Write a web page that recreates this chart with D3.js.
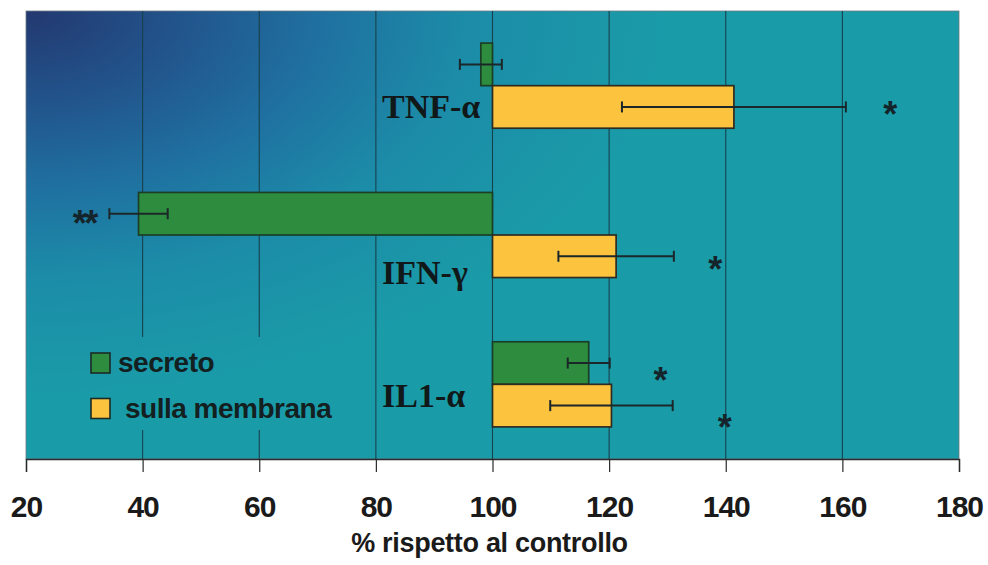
<!DOCTYPE html>
<html>
<head>
<meta charset="utf-8">
<script src="https://cdn.jsdelivr.net/npm/d3@7/dist/d3.min.js"></script>
<style>
  html, body { margin: 0; padding: 0; background: #ffffff; }
  svg { display: block; }
</style>
</head>
<body>
<svg id="chart" width="988" height="565"></svg>
<script>
// Cytokine levels relative to control (%)
const categories = ["TNF-α", "IFN-γ", "IL1-α"];
const seriesNames = ["secreto", "sulla membrana"];
const secreto = [98.0, 39.3, 116.5];
const secretoErr = [3.6, 5.0, 3.6];
const membrana = [141.4, 121.2, 120.4];
const membranaErr = [19.2, 9.9, 10.5];
const xTicks = [20, 40, 60, 80, 100, 120, 140, 160, 180];
const baseValue = 100;
// significance marks: category, series, value at which the mark sits, text
const sigCategory = ["TNF-α", "IFN-γ", "IFN-γ", "IL1-α", "IL1-α"];
const sigSeries = ["sulla membrana", "secreto", "sulla membrana", "secreto", "sulla membrana"];
const sigAt = [168.0, 30.0, 138.0, 128.6, 139.6];
const sigText = ["*", "**", "*", "*", "*"];
const axisTitle = "% rispetto al controllo";

const seriesValues = { "secreto": secreto, "sulla membrana": membrana };
const seriesErrors = { "secreto": secretoErr, "sulla membrana": membranaErr };
const seriesFill = { "secreto": "#2e8c3e", "sulla membrana": "#fcc33f" };
const seriesStroke = { "secreto": "#1b3f26", "sulla membrana": "#2f2b22" };

const rows = [];
categories.forEach((c, i) => {
  seriesNames.forEach(s => {
    rows.push({ cat: c, series: s, value: seriesValues[s][i], err: seriesErrors[s][i] });
  });
});

const plot = { left: 26, right: 959, top: 11, bottom: 459 };
const svg = d3.select("#chart");

const x = d3.scaleLinear().domain([20, 180]).range([plot.left, plot.right]);
const y = d3.scaleBand().domain(categories).range([plot.top, plot.bottom])
  .paddingInner(0.43).paddingOuter(0.215);
const ySub = d3.scaleBand().domain(seriesNames).range([0, y.bandwidth()]);

// background gradient radiating (elliptically) from the upper-left corner
const defs = svg.append("defs");
const grad = defs.append("radialGradient")
  .attr("id", "bg")
  .attr("gradientUnits", "userSpaceOnUse")
  .attr("cx", plot.left).attr("cy", plot.top)
  .attr("fx", plot.left).attr("fy", plot.top)
  .attr("r", 650)
  .attr("gradientTransform",
        `translate(${plot.left},${plot.top}) scale(1,0.6) translate(${-plot.left},${-plot.top})`);
[[0, "#233870"], [0.22, "#22528a"], [0.45, "#1f70a0"], [0.68, "#1c8ca8"], [1, "#1a9ca8"]]
  .forEach(([o, c]) => grad.append("stop").attr("offset", o).attr("stop-color", c));

svg.append("rect")
  .attr("x", plot.left).attr("y", plot.top)
  .attr("width", plot.right - plot.left).attr("height", plot.bottom - plot.top)
  .attr("fill", "url(#bg)")
  .attr("stroke", "#6b7b80").attr("stroke-width", 0.8);

// vertical gridlines
svg.append("g").selectAll("line")
  .data(xTicks.filter(t => t > 20 && t < 180))
  .join("line")
  .attr("x1", d => x(d)).attr("x2", d => x(d))
  .attr("y1", plot.top).attr("y2", plot.bottom)
  .attr("stroke", "#17414c").attr("stroke-width", 1.1);

// bars from the 100% baseline
const barG = svg.append("g");
barG.selectAll("rect")
  .data(rows)
  .join("rect")
  .attr("x", d => x(Math.min(d.value, baseValue)))
  .attr("width", d => Math.abs(x(d.value) - x(baseValue)))
  .attr("y", d => y(d.cat) + ySub(d.series))
  .attr("height", ySub.bandwidth())
  .attr("fill", d => seriesFill[d.series])
  .attr("stroke", d => seriesStroke[d.series])
  .attr("stroke-width", 1.7);

// error bars
const errG = svg.append("g").attr("stroke", "#1b2729").attr("stroke-width", 2);
const cap = 5.5;
rows.forEach(d => {
  const cy = y(d.cat) + ySub(d.series) + ySub.bandwidth() / 2;
  const x0 = x(d.value - d.err), x1 = x(d.value + d.err);
  errG.append("line").attr("x1", x0).attr("x2", x1).attr("y1", cy).attr("y2", cy);
  errG.append("line").attr("x1", x0).attr("x2", x0).attr("y1", cy - cap).attr("y2", cy + cap);
  errG.append("line").attr("x1", x1).attr("x2", x1).attr("y1", cy - cap).attr("y2", cy + cap);
});

// significance asterisks
const sigShift = { "TNF-α|sulla membrana": 0, "IFN-γ|secreto": 1.5, "IFN-γ|sulla membrana": 5,
                   "IL1-α|secreto": 9, "IL1-α|sulla membrana": 14 };
svg.append("g").selectAll("text")
  .data(sigText.map((t, i) => ({ t, cat: sigCategory[i], series: sigSeries[i], at: sigAt[i] })))
  .join("text")
  .attr("x", d => x(d.at))
  .attr("y", d => y(d.cat) + ySub(d.series) + ySub.bandwidth() / 2 + sigShift[d.cat + "|" + d.series])
  .attr("dy", "0.57em")
  .attr("text-anchor", "middle")
  .attr("font-family", "'Liberation Sans', Arial, sans-serif")
  .attr("font-weight", "bold")
  .attr("font-size", 36)
  .attr("letter-spacing", -2.5)
  .attr("fill", "#14242a")
  .text(d => d.t);

// category names inside the plot, left of the baseline
const catShift = { "TNF-α": 32, "IFN-γ": 48.5, "IL1-α": 23 };
svg.append("g").selectAll("text")
  .data(categories)
  .join("text")
  .attr("x", 382)
  .attr("y", d => y(d) + y.bandwidth() / 2 + catShift[d])
  .attr("font-family", "'Liberation Serif', 'Times New Roman', serif")
  .attr("font-weight", "bold")
  .attr("font-size", 34)
  .attr("fill", "#111819")
  .text(d => d);

// legend (panel shares the plot background so gridlines stop behind it)
const leg = svg.append("g");
leg.append("rect")
  .attr("x", 80).attr("y", 337).attr("width", 272).attr("height", 93)
  .attr("fill", "url(#bg)");
const legRows = seriesNames.map((s, i) => ({ s, i }));
leg.selectAll("rect.key")
  .data(legRows)
  .join("rect")
  .attr("class", "key")
  .attr("x", 91).attr("y", d => 353 + d.i * 45.5)
  .attr("width", 19).attr("height", 20)
  .attr("fill", d => seriesFill[d.s])
  .attr("stroke", "#1c2a26").attr("stroke-width", 1.6);
leg.selectAll("text")
  .data(legRows)
  .join("text")
  .attr("x", d => 118 + d.i * 7)
  .attr("y", d => 372 + d.i * 45.5)
  .attr("font-family", "'Liberation Sans', Arial, sans-serif")
  .attr("font-weight", "bold")
  .attr("font-size", 28)
  .attr("letter-spacing", -0.5)
  .attr("fill", "#13201f")
  .text(d => d.s);

// x axis
const axis = svg.append("g")
  .attr("transform", `translate(0,${plot.bottom})`)
  .call(d3.axisBottom(x).tickValues(xTicks).tickSize(13).tickPadding(24).tickFormat(d3.format("d")));
axis.select(".domain").attr("stroke", "#2a2a2a").attr("stroke-width", 1.4);
axis.selectAll(".tick line").attr("stroke", "#2a2a2a").attr("stroke-width", 1.2);
axis.selectAll(".tick text")
  .attr("font-family", "'Liberation Sans', Arial, sans-serif")
  .attr("font-weight", "bold")
  .attr("font-size", 30)
  .attr("letter-spacing", -1)
  .attr("fill", "#1a1a1a");

svg.append("text")
  .attr("x", (plot.left + plot.right) / 2 - 3)
  .attr("y", 552)
  .attr("text-anchor", "middle")
  .attr("font-family", "'Liberation Sans', Arial, sans-serif")
  .attr("font-weight", "bold")
  .attr("font-size", 27)
  .attr("letter-spacing", -0.3)
  .attr("fill", "#1a1a1a")
  .text(axisTitle);
</script>
</body>
</html>
